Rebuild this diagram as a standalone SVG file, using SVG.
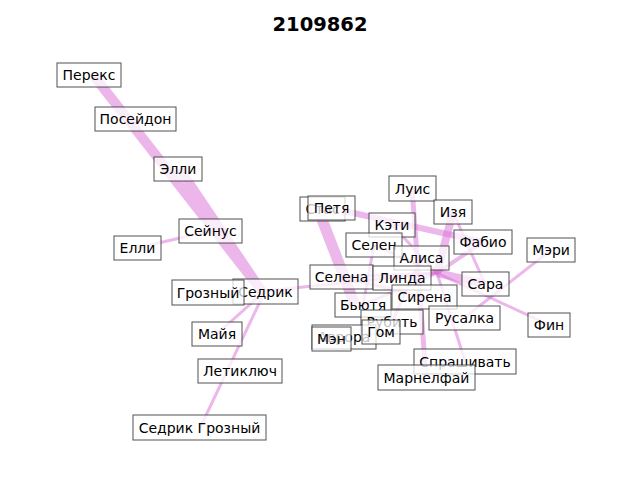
<svg xmlns="http://www.w3.org/2000/svg" width="640" height="480" viewBox="0 0 640 480">
<style>
.e{stroke:#da70d6;stroke-opacity:0.5;stroke-linecap:butt;fill:none}
.u line{stroke:#da70d6;fill:none}
.n rect{fill:#fff;fill-opacity:0.75;stroke:#333;stroke-opacity:0.85;stroke-width:1}
.n text{font-family:"DejaVu Sans",sans-serif;font-size:14px;fill:#000;text-anchor:middle;dominant-baseline:central}
</style>
<rect width="640" height="480" fill="#fff"/>
<text x="320" y="24" font-family="DejaVu Sans, sans-serif" font-size="19.5px" font-weight="bold" text-anchor="middle" dominant-baseline="central">2109862</text>
<g id="edges">
<g class="u" opacity="0.5">
<line x1="94" y1="76" x2="262" y2="291" stroke-width="10"/>
<line x1="180" y1="169" x2="262" y2="291" stroke-width="9"/>
</g>
<line class="e" x1="137" y1="248" x2="210" y2="231" stroke-width="3"/>
<line class="e" x1="265" y1="291" x2="217" y2="334" stroke-width="3"/>
<line class="e" x1="265" y1="291" x2="200" y2="428" stroke-width="3"/>
<line class="e" x1="265" y1="291" x2="437" y2="273" stroke-width="3"/>
<line class="e" x1="318" y1="209" x2="355" y2="305" stroke-width="11"/>
<line class="e" x1="331" y1="208" x2="483" y2="242" stroke-width="6"/>
<line class="e" x1="412" y1="188" x2="426" y2="377" stroke-width="5"/>
<line class="e" x1="453" y1="212" x2="437" y2="273" stroke-width="8"/>
<line class="e" x1="453" y1="212" x2="485" y2="284" stroke-width="3"/>
<line class="e" x1="483" y1="242" x2="437" y2="273" stroke-width="4"/>
<line class="e" x1="551" y1="250" x2="464" y2="318" stroke-width="3"/>
<line class="e" x1="549" y1="325" x2="437" y2="273" stroke-width="3"/>
<line class="e" x1="485" y1="284" x2="437" y2="273" stroke-width="8"/>
<line class="e" x1="437" y1="273" x2="465" y2="361" stroke-width="3"/>
<line class="e" x1="374" y1="245" x2="437" y2="273" stroke-width="3"/>
<line class="e" x1="341" y1="277" x2="437" y2="273" stroke-width="3"/>
<line class="e" x1="363" y1="305" x2="437" y2="273" stroke-width="3"/>
<line class="e" x1="374" y1="245" x2="363" y2="305" stroke-width="3"/>
<line class="e" x1="341" y1="277" x2="424" y2="297" stroke-width="3"/>
<line class="e" x1="392" y1="225" x2="437" y2="273" stroke-width="3"/>
<line class="e" x1="421" y1="258" x2="392" y2="322" stroke-width="3"/>
</g>
<g id="n-perex" class="n"><rect x="57" y="63" width="64" height="24"/><text x="89" y="75">Перекс</text></g>
<g id="n-poseidon" class="n"><rect x="95" y="107" width="81" height="24"/><text x="135.5" y="119">Посейдон</text></g>
<g id="n-elli" class="n"><rect x="154" y="157" width="48" height="24"/><text x="178" y="169">Элли</text></g>
<g id="n-seinus" class="n"><rect x="179" y="219" width="63" height="24"/><text x="210.5" y="231">Сейнус</text></g>
<g id="n-elli2" class="n"><rect x="114" y="236" width="47" height="24"/><text x="137.5" y="248">Елли</text></g>
<g id="n-sedrik" class="n"><rect x="233" y="279" width="65" height="25"/><text x="265.5" y="291.5">Седрик</text></g>
<g id="n-grozny" class="n"><rect x="172" y="280" width="72" height="25"/><text x="208" y="292.5">Грозный</text></g>
<g id="n-maiya" class="n"><rect x="192" y="322" width="50" height="24"/><text x="217" y="334">Майя</text></g>
<g id="n-letikluch" class="n"><rect x="198" y="359" width="84" height="24"/><text x="240" y="371">Летиключ</text></g>
<g id="n-sedrikgrozny" class="n"><rect x="133" y="415" width="133" height="25"/><text x="199.5" y="427.5">Седрик Грозный</text></g>
<g id="n-stas" class="n"><rect x="300" y="197" width="45" height="24"/><text x="322.5" y="209">Стас</text></g>
<g id="n-petya" class="n"><rect x="308" y="196" width="47" height="24"/><text x="331.5" y="208">Петя</text></g>
<g id="n-luis" class="n"><rect x="389" y="176" width="47" height="25"/><text x="412.5" y="188.5">Луис</text></g>
<g id="n-izya" class="n"><rect x="434" y="200" width="38" height="24"/><text x="453" y="212">Изя</text></g>
<g id="n-keti" class="n"><rect x="369" y="213" width="46" height="24"/><text x="392" y="225">Кэти</text></g>
<g id="n-selen" class="n"><rect x="346" y="233" width="56" height="24"/><text x="374" y="245">Селен</text></g>
<g id="n-fabio" class="n"><rect x="454" y="230" width="58" height="24"/><text x="483" y="242">Фабио</text></g>
<g id="n-meri" class="n"><rect x="527" y="238" width="48" height="24"/><text x="551" y="250">Мэри</text></g>
<g id="n-alisa" class="n"><rect x="394" y="246" width="55" height="24"/><text x="421.5" y="258">Алиса</text></g>
<g id="n-selena" class="n"><rect x="310" y="265" width="63" height="24"/><text x="341.5" y="277">Селена</text></g>
<g id="n-linda" class="n"><rect x="373" y="266" width="58" height="24"/><text x="402" y="278">Линда</text></g>
<g id="n-sara" class="n"><rect x="462" y="272" width="47" height="24"/><text x="485.5" y="284">Сара</text></g>
<g id="n-byutya" class="n"><rect x="335" y="293" width="56" height="24"/><text x="363" y="305">Бьютя</text></g>
<g id="n-sirena" class="n"><rect x="392" y="285" width="65" height="24"/><text x="424.5" y="297">Сирена</text></g>
<g id="n-rubit" class="n"><rect x="361" y="310" width="62" height="24"/><text x="392" y="322">Рубить</text></g>
<g id="n-rusalka" class="n"><rect x="429" y="306" width="71" height="24"/><text x="464.5" y="318">Русалка</text></g>
<g id="n-fin" class="n"><rect x="528" y="313" width="42" height="24"/><text x="549" y="325">Фин</text></g>
<g id="n-avrora" class="n"><rect x="312" y="325" width="64" height="24"/><text x="344" y="337">Аврора</text></g>
<g id="n-men" class="n"><rect x="312" y="327" width="39" height="24"/><text x="331.5" y="339">Мэн</text></g>
<g id="n-gom" class="n"><rect x="362" y="320" width="38" height="24"/><text x="381" y="332">Гом</text></g>
<g id="n-sprashivat" class="n"><rect x="414" y="349" width="102" height="25"/><text x="465" y="361.5">Спрашивать</text></g>
<g id="n-marnelfai" class="n"><rect x="378" y="365" width="97" height="25"/><text x="426.5" y="377.5">Марнелфай</text></g>
</svg>
